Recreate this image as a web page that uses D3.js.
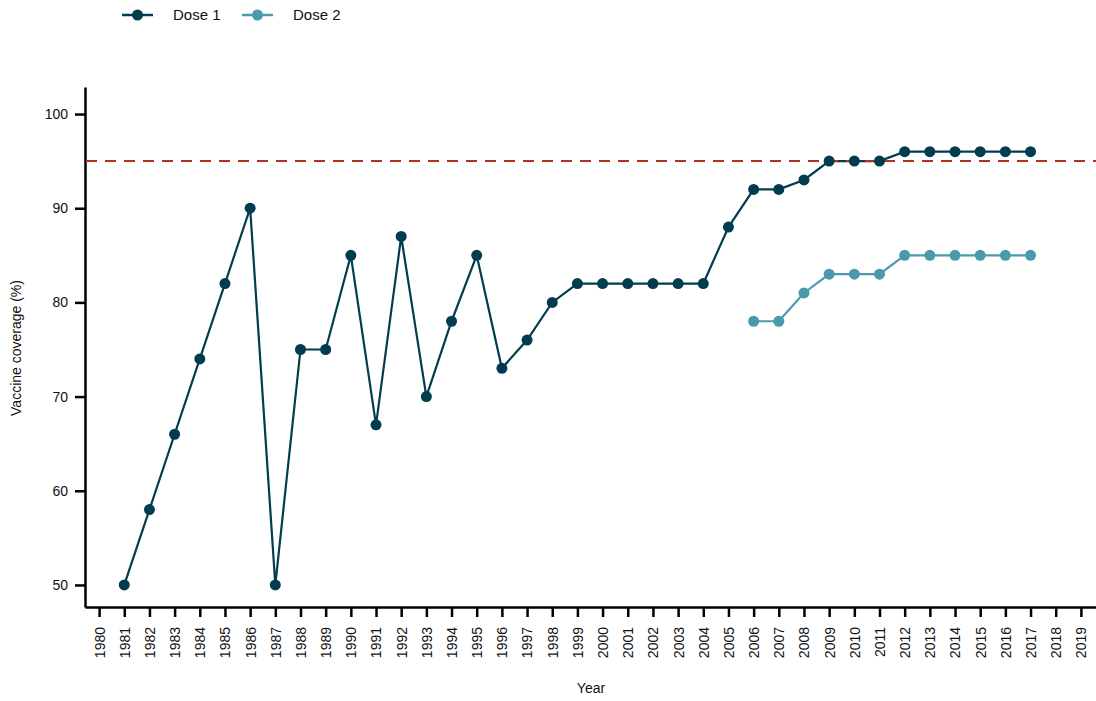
<!DOCTYPE html>
<html>
<head>
<meta charset="utf-8">
<script src="https://d3js.org/d3.v7.min.js"></script>
<style>
  body { margin: 0; background: #fff; }
  text { font-family: "Liberation Sans", Arial, sans-serif; fill: #111; }
</style>
</head>
<body>
<div id="chart"></div>
<script>
// data
var years = d3.range(1980, 2020);
var dose1Years = d3.range(1981, 2018);
var dose1Values = [50, 58, 66, 74, 82, 90, 50, 75, 75, 85, 67, 87, 70, 78, 85, 73, 76, 80,
                   82, 82, 82, 82, 82, 82, 88, 92, 92, 93, 95, 95, 95, 96, 96, 96, 96, 96, 96];
var dose2Years = d3.range(2006, 2018);
var dose2Values = [78, 78, 81, 83, 83, 83, 85, 85, 85, 85, 85, 85];
var yTicks = [50, 60, 70, 80, 90, 100];
var target = 95;
var seriesNames = ["Dose 1", "Dose 2"];
var seriesColors = ["#023d4f", "#4a9aac"];

var width = 1096, height = 701;
var svg = d3.select("#chart").append("svg")
    .attr("width", width)
    .attr("height", height);

var x = d3.scaleLinear().domain([1979.44, 2019.6]).range([85, 1096]);
var y = d3.scaleLinear().domain([47.66, 102.87]).range([607, 87]);

// axes
var xAxis = svg.append("g")
    .attr("transform", "translate(0,607)")
    .call(d3.axisBottom(x).tickValues(years).tickFormat(d3.format("d")).tickSize(10).tickSizeOuter(0));
xAxis.selectAll("text")
    .attr("transform", "rotate(-90)")
    .attr("text-anchor", "end")
    .attr("x", -20)
    .attr("y", 0)
    .attr("dy", "0.35em")
    .style("font-size", "14px");

var yAxis = svg.append("g")
    .attr("transform", "translate(85,0)")
    .call(d3.axisLeft(y).tickValues(yTicks).tickSize(10).tickSizeOuter(0));
yAxis.selectAll("text")
    .attr("x", -17)
    .style("font-size", "14px");

svg.selectAll(".domain").attr("stroke", "#000").attr("stroke-width", 2.5);
svg.selectAll(".tick line").attr("stroke", "#000").attr("stroke-width", 2.5);

svg.append("text")
    .attr("x", 591).attr("y", 693)
    .attr("text-anchor", "middle")
    .style("font-size", "14px")
    .text("Year");

svg.append("text")
    .attr("transform", "translate(21,348) rotate(-90)")
    .attr("text-anchor", "middle")
    .style("font-size", "14px")
    .text("Vaccine coverage (%)");

// series
var series = [
  { name: seriesNames[0], color: seriesColors[0], pts: dose1Years.map(function(d, i) { return [d, dose1Values[i]]; }) },
  { name: seriesNames[1], color: seriesColors[1], pts: dose2Years.map(function(d, i) { return [d, dose2Values[i]]; }) }
];

var line = d3.line()
    .x(function(d) { return x(d[0]); })
    .y(function(d) { return y(d[1]); });

series.forEach(function(s) {
  svg.append("path")
      .datum(s.pts)
      .attr("d", line)
      .attr("fill", "none")
      .attr("stroke", s.color)
      .attr("stroke-width", 2.2);
});

// target line
svg.append("line")
    .attr("x1", x.range()[0] + 1).attr("x2", x.range()[1])
    .attr("y1", y(target)).attr("y2", y(target))
    .attr("stroke", "#b3321f")
    .attr("stroke-width", 2)
    .attr("stroke-dasharray", "11,8");

series.forEach(function(s) {
  svg.append("g").selectAll("circle")
      .data(s.pts)
    .enter().append("circle")
      .attr("cx", function(d) { return x(d[0]); })
      .attr("cy", function(d) { return y(d[1]); })
      .attr("r", 5.5)
      .attr("fill", s.color);
});

// legend
var legendX = [122, 242];
series.forEach(function(s, i) {
  var g = svg.append("g").attr("transform", "translate(" + legendX[i] + ",15)");
  g.append("line").attr("x1", 0).attr("x2", 31).attr("y1", 0).attr("y2", 0)
      .attr("stroke", s.color).attr("stroke-width", 2.5);
  g.append("circle").attr("cx", 15.5).attr("cy", 0).attr("r", 5.5).attr("fill", s.color);
  g.append("text").attr("x", 51).attr("y", 0).attr("dy", "0.35em")
      .style("font-size", "15px").text(s.name);
});
</script>
</body>
</html>
